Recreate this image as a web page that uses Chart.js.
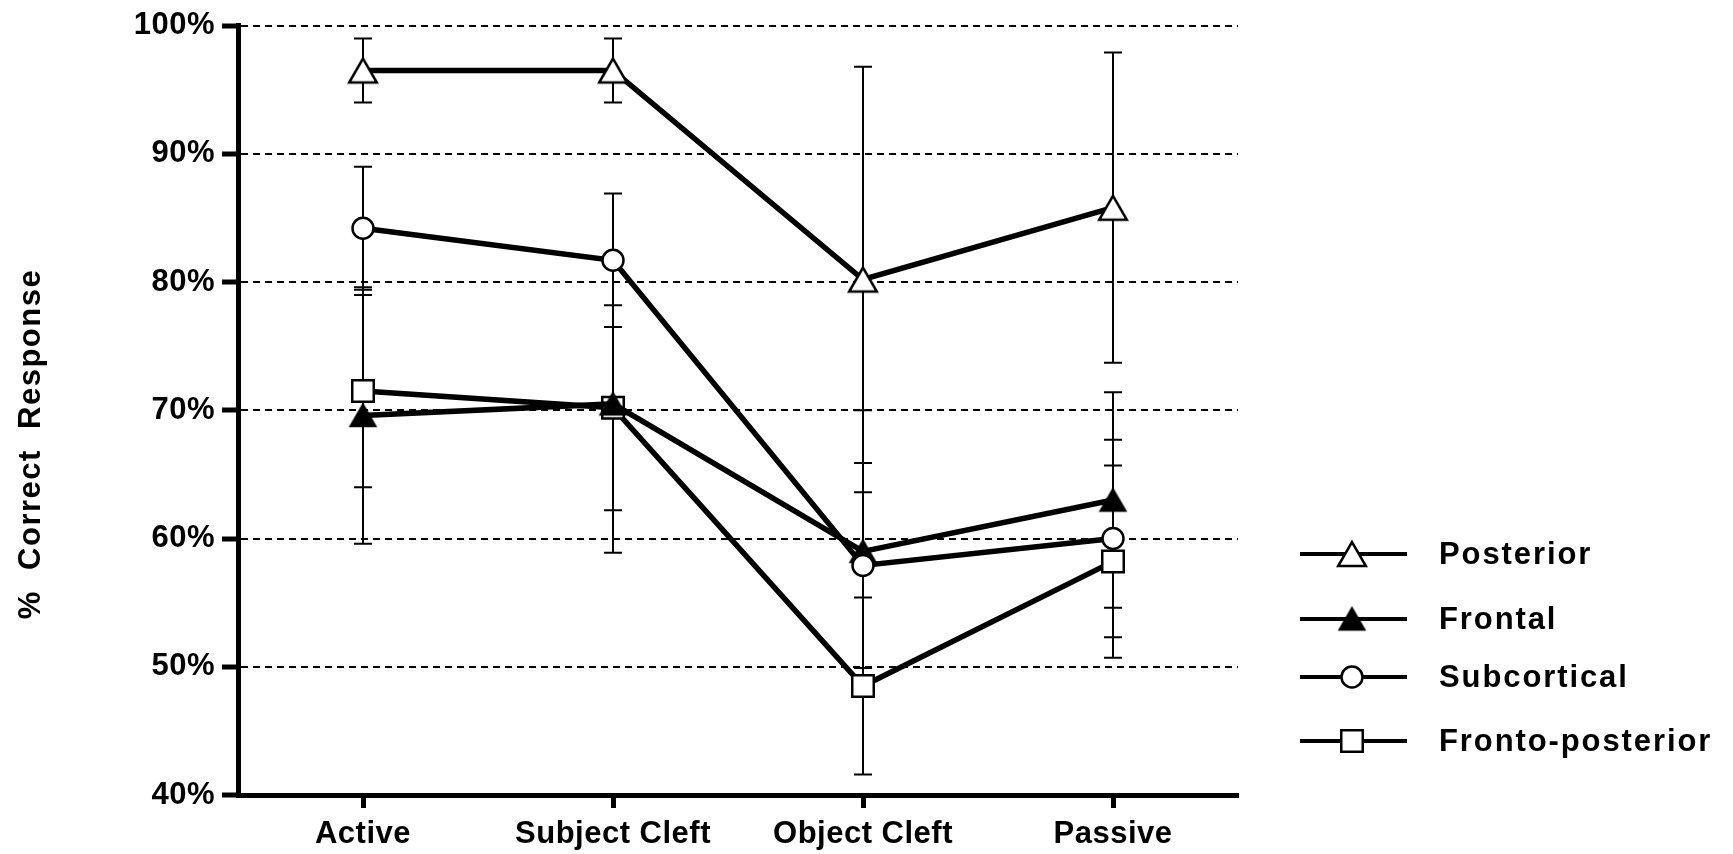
<!DOCTYPE html>
<html>
<head>
<meta charset="utf-8">
<title>% Correct Response</title>
<script src="https://cdn.jsdelivr.net/npm/chart.js@4.4.0/dist/chart.umd.min.js"></script>
<style>
  html, body { margin: 0; padding: 0; background: #fff; }
  #wrap { width: 1733px; height: 854px; }
</style>
</head>
<body>
<div id="wrap"><canvas id="myChart" width="1733" height="854"></canvas></div>
<script>
'use strict';

// categories and tick labels
var categories = ['Active', 'Subject Cleft', 'Object Cleft', 'Passive'];
var yTicks = [40, 50, 60, 70, 80, 90, 100];

// series means (% correct) and error bar half-lengths
var posterior = [96.5, 96.5, 80.2, 85.8];
var posteriorErr = [2.5, 2.5, 16.6, 12.1];
var frontal = [69.6, 70.5, 59.0, 63.0];
var frontalErr = [10.0, 11.6, 11.0, 8.4];
var subcortical = [84.2, 81.7, 57.9, 60.0];
var subcorticalErr = [4.8, 5.2, 8.0, 7.7];
var frontoPosterior = [71.5, 70.2, 48.5, 58.2];
var frontoPosteriorErr = [7.5, 8.0, 6.9, 7.5];

var seriesNames = ['Posterior', 'Frontal', 'Subcortical', 'Fronto-posterior'];

var FONT = "'Liberation Sans', Arial, sans-serif";

// triangle marker centred on its box (like the original plot software)
function triangleImage(r, fill) {
  var w = r * Math.sqrt(3);
  var h = r * 1.5;
  var c = document.createElement('canvas');
  c.width = Math.ceil(w + 6);
  c.height = Math.ceil(h + 6);
  var g = c.getContext('2d');
  var cx = c.width / 2, cy = c.height / 2;
  g.beginPath();
  g.moveTo(cx, cy - h / 2);
  g.lineTo(cx + w / 2, cy + h / 2);
  g.lineTo(cx - w / 2, cy + h / 2);
  g.closePath();
  g.fillStyle = fill;
  g.fill();
  g.lineWidth = 2.5;
  g.lineJoin = 'miter';
  g.strokeStyle = '#000';
  g.stroke();
  return c;
}

function makeSet(name, values, errs, style, radius, fill, order) {
  return {
    label: name,
    data: values,
    errors: errs,
    borderColor: '#000',
    borderWidth: 5.5,
    pointStyle: style,
    pointRadius: radius,
    pointBorderWidth: 2.5,
    pointBackgroundColor: fill,
    pointBorderColor: '#000',
    tension: 0,
    fill: false,
    order: order
  };
}

// error bars under the lines and markers
var errorBars = {
  id: 'errorBars',
  beforeDatasetsDraw: function(chart) {
    var ctx = chart.ctx;
    var yScale = chart.scales.y;
    ctx.save();
    ctx.strokeStyle = '#000';
    ctx.lineWidth = 2;
    chart.data.datasets.forEach(function(ds, i) {
      var meta = chart.getDatasetMeta(i);
      meta.data.forEach(function(pt, j) {
        var top = yScale.getPixelForValue(ds.data[j] + ds.errors[j]);
        var bot = yScale.getPixelForValue(ds.data[j] - ds.errors[j]);
        ctx.beginPath();
        ctx.moveTo(pt.x, top);
        ctx.lineTo(pt.x, bot);
        ctx.moveTo(pt.x - 9, top);
        ctx.lineTo(pt.x + 9, top);
        ctx.moveTo(pt.x - 9, bot);
        ctx.lineTo(pt.x + 9, bot);
        ctx.stroke();
      });
    });
    ctx.restore();
  }
};

function marker(ctx, style, r, x, y, fill) {
  if (style instanceof HTMLCanvasElement) {
    ctx.drawImage(style, x - style.width / 2, y - style.height / 2);
    return;
  }
  ctx.beginPath();
  if (style === 'circle') {
    ctx.arc(x, y, r, 0, Math.PI * 2);
  } else {
    var s = r * Math.SQRT1_2;
    ctx.rect(x - s, y - s, 2 * s, 2 * s);
  }
  ctx.fillStyle = fill;
  ctx.fill();
  ctx.stroke();
}

// legend on the right, plus the rotated y title
var sideText = {
  id: 'sideText',
  beforeDraw: function(chart) {
    chart.ctx.letterSpacing = '0.5px';
  },
  afterDraw: function(chart) {
    var ctx = chart.ctx;
    var rows = [554, 619, 677, 741];
    ctx.save();
    chart.data.datasets.forEach(function(ds, i) {
      var y = rows[i];
      ctx.strokeStyle = '#000';
      ctx.lineWidth = 4;
      ctx.beginPath();
      ctx.moveTo(1300, y);
      ctx.lineTo(1407, y);
      ctx.stroke();
      ctx.lineWidth = 2.5;
      marker(ctx, ds.pointStyle, ds.pointRadius, 1352, y, ds.pointBackgroundColor);
      ctx.letterSpacing = '1.9px';
      ctx.fillStyle = '#000';
      ctx.font = 'bold 31px ' + FONT;
      ctx.textAlign = 'left';
      ctx.textBaseline = 'middle';
      ctx.fillText(ds.label, 1439, y + 1);
    });
    ctx.translate(31, 444);
    ctx.rotate(-Math.PI / 2);
    ctx.letterSpacing = '1.5px';
    ctx.textAlign = 'center';
    ctx.textBaseline = 'middle';
    ctx.fillText('%  Correct  Response', 0, 0);
    ctx.restore();
  }
};

var ctx = document.getElementById('myChart').getContext('2d');
var chart = new Chart(ctx, {
  type: 'line',
  data: {
    labels: categories,
    datasets: [
      makeSet(seriesNames[0], posterior, posteriorErr, triangleImage(16, '#fff'), 16, '#fff', 0),
      makeSet(seriesNames[1], frontal, frontalErr, triangleImage(14, '#000'), 14, '#000', 2),
      makeSet(seriesNames[2], subcortical, subcorticalErr, 'circle', 10.5, '#fff', 1),
      makeSet(seriesNames[3], frontoPosterior, frontoPosteriorErr, 'rect', 15.2, '#fff', 3)
    ]
  },
  options: {
    responsive: false,
    animation: false,
    devicePixelRatio: 1,
    layout: { padding: { top: 23, right: 495, bottom: 0, left: 0 } },
    plugins: {
      legend: { display: false },
      tooltip: { enabled: false }
    },
    scales: {
      x: {
        type: 'category',
        offset: true,
        afterFit: function(scale) { scale.height = 59; },
        grid: { drawOnChartArea: false, drawTicks: true, tickLength: 13, tickWidth: 5, tickColor: '#000' },
        border: { display: true, color: '#000', width: 5 },
        ticks: { color: '#000', padding: 8, font: { family: FONT, size: 31, weight: 'bold' } }
      },
      y: {
        min: yTicks[0],
        max: yTicks[yTicks.length - 1],
        afterFit: function(scale) { scale.width = 238; },
        afterBuildTicks: function(scale) {
          scale.ticks = yTicks.map(function(v) { return { value: v }; });
        },
        grid: { color: '#000', lineWidth: 2, drawTicks: true, tickLength: 16, tickWidth: 5, tickColor: '#000' },
        border: { display: true, color: '#000', width: 5, dash: [7, 5] },
        ticks: {
          color: '#000',
          padding: 7,
          font: { family: FONT, size: 31, weight: 'bold' },
          callback: function(v) { return v + '%'; }
        }
      }
    }
  },
  plugins: [errorBars, sideText]
});
</script>
</body>
</html>
